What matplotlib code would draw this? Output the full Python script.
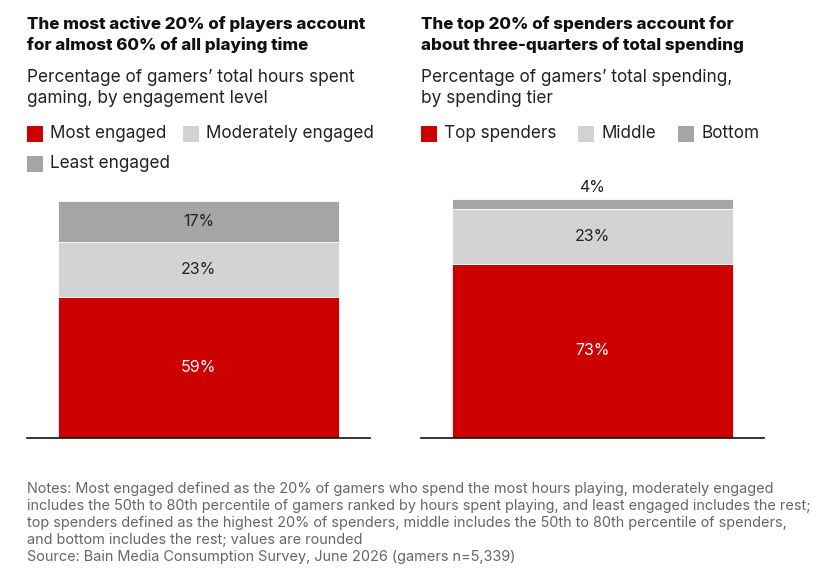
import matplotlib
matplotlib.use("Agg")
import matplotlib.pyplot as plt
from matplotlib.patches import Rectangle

# data
hours_labels = ["Most engaged", "Moderately engaged", "Least engaged"]
hours_values = [59, 23, 17]
spend_labels = ["Top spenders", "Middle", "Bottom"]
spend_values = [73, 23, 4]
colors = ["#cc0000", "#d3d3d3", "#a5a5a5"]

titles = ["The most active 20% of players account\nfor almost 60% of all playing time",
          "The top 20% of spenders account for\nabout three-quarters of total spending"]
subtitles = ["Percentage of gamers\u2019 total hours spent\ngaming, by engagement level",
             "Percentage of gamers\u2019 total spending,\nby spending tier"]
notes = ("Notes: Most engaged defined as the 20% of gamers who spend the most hours playing, moderately engaged\n"
         "includes the 50th to 80th percentile of gamers ranked by hours spent playing, and least engaged includes the rest;\n"
         "top spenders defined as the highest 20% of spenders, middle includes the 50th to 80th percentile of spenders,\n"
         "and bottom includes the rest; values are rounded\n"
         "Source: Bain Media Consumption Survey, June 2026 (gamers n=5,339)")

W, H = 830, 579
fig = plt.figure(figsize=(W / 100, H / 100), dpi=100)
plt.rcParams['font.family'] = ['Inter', 'DejaVu Sans']


def px(x, y):
    return x / W, 1 - y / H


def bar_panel(x0, vals):
    ax = fig.add_axes([x0 / W, (H - 438) / H, 343 / W, 239 / H])
    bottom = 0
    for v, c in zip(vals, colors):
        ax.bar(0, v, width=0.8, bottom=bottom, color=c, edgecolor="white", linewidth=0.6)
        if v < 8:
            ax.annotate(f"{v}%", (0, bottom + v), xytext=(0, 3), textcoords="offset points",
                        ha="center", va="bottom", fontsize=11.5, color="#222222")
        else:
            ax.text(0, bottom + v / 2, f"{v}%", ha="center", va="center", fontsize=11.5,
                    color="white" if c == colors[0] else "#222222")
        bottom += v
    ax.set_xlim(-0.488, 0.488)
    ax.set_ylim(0, 100)
    for s in ["top", "left", "right"]:
        ax.spines[s].set_visible(False)
    ax.spines["bottom"].set_linewidth(1.2)
    ax.spines["bottom"].set_color("#111111")
    ax.set_xticks([])
    ax.set_yticks([])
    ax.patch.set_alpha(0)
    return ax


bar_panel(27, hours_values)
bar_panel(421, spend_values)

# titles and subtitles
for x0, t, s in zip([27, 421], titles, subtitles):
    fig.text(*px(x0, 16), t, ha="left", va="top", fontsize=12.2, fontweight="heavy",
             color="#111111", linespacing=1.38)
    fig.text(*px(x0, 69), s, ha="left", va="top", fontsize=12.4, color="#222222",
             linespacing=1.3)

# legends
legend_items = [
    (27, 126, hours_labels[0], colors[0]), (183, 126, hours_labels[1], colors[1]),
    (27, 156, hours_labels[2], colors[2]),
    (421, 126, spend_labels[0], colors[0]), (578, 126, spend_labels[1], colors[1]),
    (678, 126, spend_labels[2], colors[2]),
]
for x, y, lab, c in legend_items:
    fig.patches.append(Rectangle(px(x, y + 16), 16 / W, 16 / H, transform=fig.transFigure,
                                 facecolor=c, edgecolor="none"))
    fig.text(*px(x + 23, y + 8), lab, ha="left", va="center", fontsize=12.3, color="#222222")

fig.text(*px(27, 482), notes, ha="left", va="top", fontsize=10.4, color="#666666",
         linespacing=1.27)

fig.savefig("out.png", dpi=100)
